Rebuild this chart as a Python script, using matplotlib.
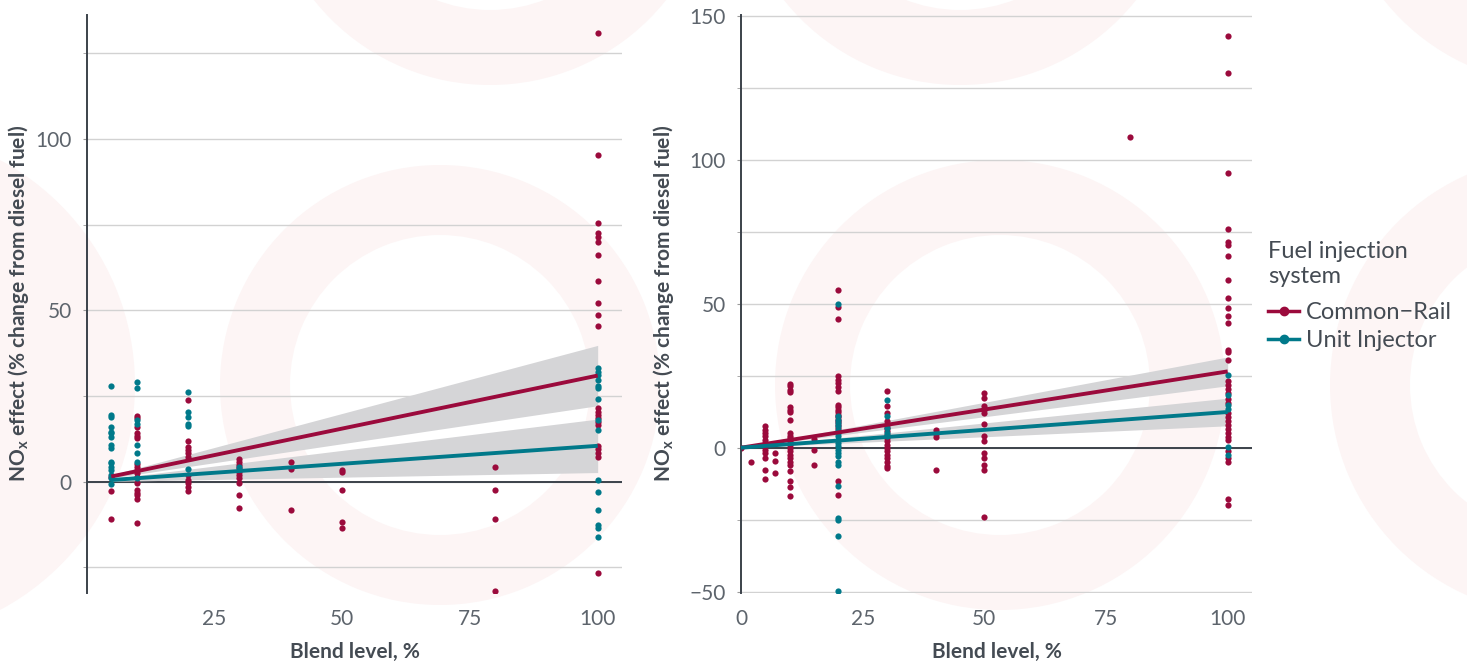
import matplotlib
matplotlib.use("Agg")
import matplotlib.pyplot as plt
from matplotlib.lines import Line2D
from matplotlib.patches import Wedge

plt.rcParams["font.family"] = ["Lato", "DejaVu Sans"]
plt.rcParams["mathtext.default"] = "regular"

# Colours
CR_COLOR = "#9b0a3c"
UI_COLOR = "#00798a"
BAND_COLOR = "#d5d5d7"
TEXT_COLOR = "#5d646c"
LABEL_COLOR = "#444b53"

W, H = 1467, 669

# --- Data: left panel (blend level -> NOx effect values) ---
left_cr = {
    5: [1.5, -2.6, -10.8],
    10: [19.2, 18.6, 16, 14.3, 13.4, 12.8, 5.2, 4.4, 3.5, 2.6, 1.5, -0.3, -2.3, -3.2, -3.8, -5, -12],
    20: [24, 12, 10.2, 9.3, 8.5, 7.3, 2, 0.6, -0.3, -1.5, -2.6],
    30: [6.7, 5.8, 4.9, 4, 2.9, 2, 1.2, -0.3, -3.8, -7.6],
    40: [5.9, 3.7, -8.2],
    50: [3.5, 2.9, -2.3, -11.7, -13.4],
    80: [4.4, -2.3, -10.8, -32],
    100: [131, 95.3, 75.6, 72.5, 71.4, 70, 66.2, 58.7, 52.2, 48.7, 45.5, 21.6, 20.4,
          19.5, 18.7, 17.5, 16.6, 10.5, 9.6, 8.5, 7.3, -26.5],
}
left_ui = {
    5: [28, 19.5, 19, 16, 14.5, 14.2, 13, 10.8, 9.9, 5.8, 5.5, 4.4, 3.5, 2, 1, -0.6],
    10: [29, 27.5, 18, 17, 10.8, 8.5, 5.8, 1.2],
    20: [26.3, 20.4, 19, 17, 16.3, 3.8],
    30: [4.4],
    100: [33.2, 32, 31.2, 29.7, 28, 27.4, 24.2, 18, 15.2, 0.6, -2.9, -8.2, -12.5, -13.4, -16],
}

# --- Data: right panel ---
right_cr = {
    0: [0],
    2: [-5.1],
    5: [7.4, 6.2, 5.1, 3.9, 2.8, 1.6, 0.5, -0.7, -1.8, -3.6, -7.6, -10.8],
    7: [-1.8, -4.5, -8.8],
    10: [22.1, 21.3, 20.1, 19.2, 14.1, 13.2, 12.3, 9.5, 5.1, 4.2, 3.4, 2.2, 1.0, -0.1,
         -1.3, -2.5, -3.6, -4.8, -5.9, -8.2, -11.7, -13.7, -16.9],
    15: [3.0, -0.9, -6.1],
    20: [54.9, 48.8, 44.8, 24.8, 23.6, 22.5, 21.1, 19.6, 14.9, 14.1, 13.2, 12.3, 11.5,
         10.7, 9.7, 8.8, 7.9, 7.0, -11.7, -16.3],
    30: [19.6, 14.4, 12, 9.1, 8, 6.8, 5.7, 4.5, 3.4, 2.2, 1, -0.1, -1.3, -2.4, -3.6,
         -5.1, -6.3, -7.1],
    40: [6, 4.9, 3.7, -7.9],
    50: [19.1, 17.4, 14.6, 13.2, 12.2, 8.3, 4.2, 2.4, -1.7, -3.5, -5.9, -7.6, -24],
    80: [108],
    100: [143.1, 130, 95.3, 75.8, 71.6, 70.5, 66.5, 58.4, 51.9, 48.5, 45.7, 43.3, 34.1,
          33.4, 30.4, 23.1, 21.7, 20.3, 19, 16.9, 15.5, 12.1, 10.7, 9.3, 8, 6.6, 5.2,
          3.8, 2.5, -1, -3.7, -5.1, -17.7, -19.9],
}
right_ui = {
    20: [50, 10.9, 9.7, 8.6, 7.4, 6.3, 5.1, 3.9, 2.8, 1.6, 0.5, -0.7, -1.8, -3, -4.8,
         -5.9, -13.2, -24.4, -25, -30.6, -49.9],
    30: [16.7, 10.9, 6.8, 5.1, 3.9],
    100: [25.4, 18.3, 14.8, 13.5, 0.4, -2.6],
}

# --- Fitted lines and confidence bands (read at the line ends) ---
left_fit_x = [5, 100]
left_cr_fit = [1.55, 31.0]
left_cr_lo = [1.1, 22.2]
left_cr_hi = [2.0, 39.8]
left_ui_fit = [0.52, 10.5]
left_ui_lo = [0.13, 2.7]
left_ui_hi = [0.91, 18.3]

right_fit_x = [0, 100]
right_cr_fit = [0, 26.5]
right_cr_lo = [0, 21.5]
right_cr_hi = [0, 31.5]
right_ui_fit = [0, 12.4]
right_ui_lo = [0, 7.6]
right_ui_hi = [0, 17.2]

legend_labels = ["Common\u2212Rail", "Unit Injector"]


def flatten(series):
    xs, ys = [], []
    for blend, vals in series.items():
        xs += [blend] * len(vals)
        ys += vals
    return xs, ys


def draw_panel(ax, cr, ui, fit_x, fits, ylim, xlim, yticks, yminor, xticks, ylabel_x):
    ax.set_facecolor("none")
    for y in yticks + yminor:
        ax.axhline(y, color="#d2d2d2", lw=1.0, zorder=0)
    ax.axhline(0, color="#3b424a", lw=1.4, zorder=0.5)

    (cr_fit, cr_lo, cr_hi), (ui_fit, ui_lo, ui_hi) = fits
    ax.fill_between(fit_x, cr_lo, cr_hi, color=BAND_COLOR, lw=0, zorder=1)
    ax.fill_between(fit_x, ui_lo, ui_hi, color=BAND_COLOR, lw=0, zorder=1)

    x, y = flatten(cr)
    ax.scatter(x, y, s=20, color=CR_COLOR, lw=0, zorder=2)
    x, y = flatten(ui)
    ax.scatter(x, y, s=20, color=UI_COLOR, lw=0, zorder=2)

    ax.plot(fit_x, cr_fit, color=CR_COLOR, lw=2.8, zorder=3, solid_capstyle="butt")
    ax.plot(fit_x, ui_fit, color=UI_COLOR, lw=2.8, zorder=3, solid_capstyle="butt")

    ax.set_xlim(*xlim)
    ax.set_ylim(*ylim)
    ax.set_yticks(yticks)
    ax.set_yticks(yminor, minor=True)
    ax.set_xticks(xticks)
    ax.tick_params(axis="y", which="both", length=3, color="#9a9a9a",
                   labelsize=15, labelcolor=TEXT_COLOR, pad=8)
    ax.tick_params(axis="x", length=0, labelsize=15, labelcolor=TEXT_COLOR, pad=12)
    for side in ["top", "right", "bottom"]:
        ax.spines[side].set_visible(False)
    ax.spines["left"].set_color("#3b424a")
    ax.spines["left"].set_linewidth(1.4)
    ax.set_xlabel("Blend level, %", fontsize=15, fontweight="bold",
                  color=LABEL_COLOR, labelpad=9)
    ax.set_ylabel(r"NO$_\mathregular{x}$ effect (% change from diesel fuel)",
                  fontsize=15, fontweight="bold", color=LABEL_COLOR)
    ax.yaxis.set_label_coords(ylabel_x, 0.5)


fig = plt.figure(figsize=(W / 100, H / 100), dpi=100)

# faint background rings (watermark)
bg = fig.add_axes([0, 0, 1, 1], zorder=-5)
bg.set_xlim(0, W)
bg.set_ylim(H, 0)
bg.axis("off")
for cx, cy, r_out, r_in in [(440, 385, 220, 150), (1000, 385, 225, 150),
                            (-120, 385, 255, 0), (1560, 385, 230, 150),
                            (490, -140, 225, 150), (960, -140, 225, 150),
                            (1560, -140, 225, 150)]:
    bg.add_patch(Wedge((cx, cy), r_out, 0, 360, width=r_out - r_in,
                       color="#fdf5f5", lw=0))

top, bottom = 15, 592.5
ax1 = fig.add_axes([87 / W, 1 - bottom / H, (622 - 87) / W, (bottom - top) / H])
ax2 = fig.add_axes([741 / W, 1 - bottom / H, (1252 - 741) / W, (bottom - top) / H])

draw_panel(ax1, left_cr, left_ui, left_fit_x,
           [(left_cr_fit, left_cr_lo, left_cr_hi), (left_ui_fit, left_ui_lo, left_ui_hi)],
           ylim=(-32.3, 136.2), xlim=(0.25, 104.75),
           yticks=[0, 50, 100], yminor=[-25, 25, 75, 125], xticks=[25, 50, 75, 100],
           ylabel_x=(31 - 87) / 535)
draw_panel(ax2, right_cr, right_ui, right_fit_x,
           [(right_cr_fit, right_cr_lo, right_cr_hi), (right_ui_fit, right_ui_lo, right_ui_hi)],
           ylim=(-50.3, 150.3), xlim=(0, 105),
           yticks=[-50, 0, 50, 100, 150], yminor=[-25, 25, 75, 125], xticks=[0, 25, 50, 75, 100],
           ylabel_x=(676 - 741) / 511)

handles = [Line2D([], [], color=c, lw=2.5, marker="o", markersize=6)
           for c in [CR_COLOR, UI_COLOR]]
leg = fig.legend(handles, legend_labels, title="Fuel injection\nsystem",
                 loc="upper left", bbox_to_anchor=(1247 / W, 1 - 220 / H),
                 frameon=False, fontsize=17, title_fontsize=17,
                 handlelength=1.3, handletextpad=0.3, labelspacing=0.3,
                 alignment="left", labelcolor=LABEL_COLOR)
leg.get_title().set_color(LABEL_COLOR)
leg.get_title().set_linespacing(1.2)
leg._legend_box.sep = 11  # gap between title and entries

fig.savefig("out.png", dpi=100)
